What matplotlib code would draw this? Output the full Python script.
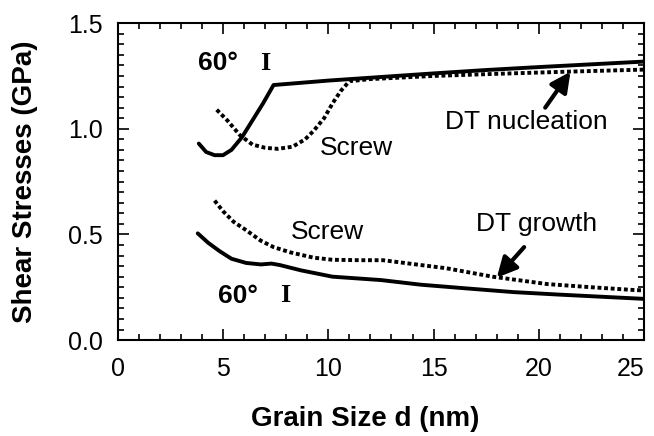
import matplotlib
matplotlib.use('Agg')
import matplotlib.pyplot as plt
from matplotlib.ticker import MultipleLocator, FormatStrFormatter

# 60 deg dislocation, DT nucleation (upper solid)
x_60_nuc = [3.85, 4.2, 4.6, 5.0, 5.4, 5.9, 6.4, 6.9, 7.4, 10.0, 12.5, 15.0, 17.5, 20.0, 22.5, 25.0]
y_60_nuc = [0.93, 0.89, 0.875, 0.875, 0.90, 0.96, 1.04, 1.12, 1.207, 1.228, 1.245, 1.262, 1.278, 1.292, 1.305, 1.318]

# screw dislocation, DT nucleation (upper dashed)
x_sc_nuc = [4.7, 5.2, 5.8, 6.4, 7.0, 7.6, 8.3, 8.9, 9.3, 9.8, 10.2, 10.6, 11.0, 12.0, 15.0, 18.0, 21.3, 25.0]
y_sc_nuc = [1.09, 1.04, 0.97, 0.925, 0.91, 0.905, 0.915, 0.95, 0.99, 1.05, 1.12, 1.18, 1.225, 1.235, 1.25, 1.26, 1.27, 1.28]

# 60 deg dislocation, DT growth (lower solid)
x_60_gr = [3.8, 4.3, 4.85, 5.4, 6.1, 6.8, 7.3, 7.7, 8.7, 10.2, 12.5, 14.4, 16.5, 18.8, 21.0, 23.0, 25.0]
y_60_gr = [0.505, 0.46, 0.42, 0.385, 0.365, 0.358, 0.362, 0.355, 0.33, 0.30, 0.284, 0.262, 0.245, 0.227, 0.215, 0.205, 0.195]

# screw dislocation, DT growth (lower dashed)
x_sc_gr = [4.6, 5.0, 5.5, 6.1, 6.8, 7.4, 8.2, 9.3, 10.2, 11.5, 12.6, 14.4, 15.6, 17.8, 20.4, 22.5, 24.5, 25.0]
y_sc_gr = [0.66, 0.61, 0.56, 0.52, 0.47, 0.44, 0.415, 0.39, 0.38, 0.378, 0.378, 0.355, 0.34, 0.30, 0.265, 0.25, 0.237, 0.235]

SANS = 'Liberation Sans'
SERIF = 'Liberation Serif'
plt.rcParams['font.family'] = SANS

fig = plt.figure(figsize=(6.54, 4.36), dpi=100)
ax = fig.add_axes([0.180, 0.220, 0.805, 0.727])

dash = (0, (1.0, 0.7))
ax.plot(x_60_nuc, y_60_nuc, color='k', lw=2.8, solid_capstyle='round')
ax.plot(x_sc_nuc, y_sc_nuc, color='k', lw=2.8, ls=dash)
ax.plot(x_60_gr, y_60_gr, color='k', lw=2.8, solid_capstyle='round')
ax.plot(x_sc_gr, y_sc_gr, color='k', lw=2.8, ls=dash)

ax.set_xlim(0, 25); ax.set_ylim(0, 1.5)
ax.xaxis.set_major_locator(MultipleLocator(5))
ax.xaxis.set_minor_locator(MultipleLocator(1))
ax.yaxis.set_major_locator(MultipleLocator(0.5))
ax.yaxis.set_minor_locator(MultipleLocator(0.05))
ax.yaxis.set_major_formatter(FormatStrFormatter('%.1f'))
ax.tick_params(which='both', direction='in', top=True, right=True, labelsize=18, width=1.2)
ax.tick_params(which='major', length=8)
ax.tick_params(which='minor', length=4.5)
ax.tick_params(axis='x', pad=12)
ax.tick_params(axis='y', pad=11)
for s in ax.spines.values():
    s.set_linewidth(1.5)

ax.set_xlabel('Grain Size d (nm)', fontsize=20, fontweight='bold')
ax.set_ylabel('Shear Stresses (GPa)', fontsize=20, fontweight='bold')
ax.xaxis.set_label_coords(0.47, -0.25)
ax.yaxis.set_label_coords(-0.177, 0.5)
ax.xaxis.label.set_va('center'); ax.yaxis.label.set_va('center')

# keep the "25" tick label inside the figure, as in the original
fig.canvas.draw()
for lab in ax.get_xticklabels():
    if lab.get_text() == '25':
        lab.set_horizontalalignment('right')
        lab.set_x(25.3)

# curve labels
ax.text(3.8, 1.31, '60°', fontsize=19, fontweight='bold', va='center')
ax.text(6.75, 1.31, 'I', fontsize=19, fontweight='bold', family=SERIF, va='center')
ax.text(4.75, 0.21, '60°', fontsize=19, fontweight='bold', va='center')
ax.text(7.7, 0.21, 'I', fontsize=19, fontweight='bold', family=SERIF, va='center')
ax.text(9.6, 0.91, 'Screw', fontsize=19, va='center')
ax.text(8.2, 0.51, 'Screw', fontsize=19, va='center')

arrow = dict(arrowstyle='-|>,head_length=0.6,head_width=0.3', color='k', lw=3,
             mutation_scale=20, shrinkA=0, shrinkB=0)
ax.annotate('', xy=(21.5, 1.27), xytext=(20.3, 1.10), arrowprops=arrow)
ax.annotate('', xy=(18.0, 0.295), xytext=(19.3, 0.44), arrowprops=arrow)
ax.text(19.4, 1.03, 'DT nucleation', fontsize=19, ha='center', va='center')
ax.text(19.9, 0.55, 'DT growth', fontsize=19, ha='center', va='center')

fig.savefig('out.png', dpi=100)
